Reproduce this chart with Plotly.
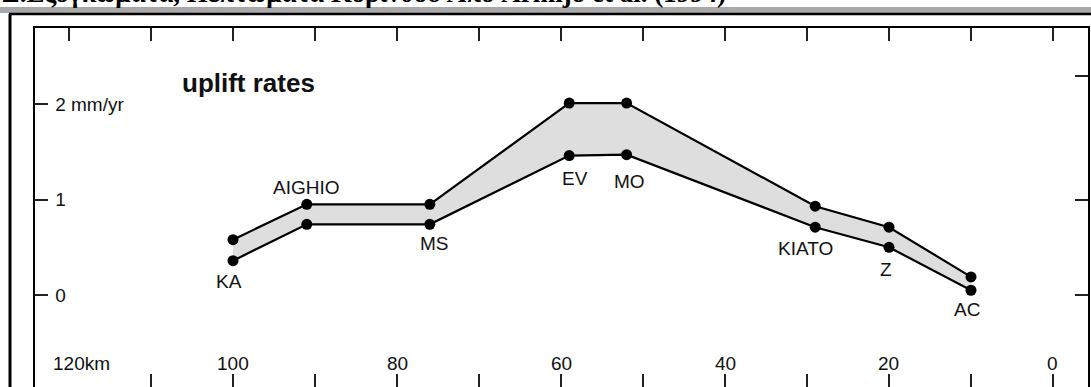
import plotly.graph_objects as go

# ---- data ----
sites = ["KA", "AIGHIO", "MS", "EV", "MO", "KIATO", "Z", "AC"]
distance_km = [100, 91, 76, 59, 52, 29, 20, 10]
uplift_max = [0.58, 0.95, 0.95, 2.01, 2.01, 0.93, 0.71, 0.19]
uplift_min = [0.36, 0.74, 0.74, 1.46, 1.47, 0.71, 0.50, 0.05]
label_on = ["min", "max", "min", "min", "min", "min", "min", "min"]
x_ticks = [120, 110, 100, 90, 80, 70, 60, 50, 40, 30, 20, 10, 0]
x_labels = {120: "120km", 100: "100", 80: "80", 60: "60", 40: "40", 20: "20", 0: "0"}
y_ticks = [0, 1, 2]
y_labels = ["0", "1", "2 mm/yr"]
right_y_ticks = [0, 1, 2.29]
title_text = "Σ.Εξογκώματα, Πεπτώματα Κορίνθου Από Armijo et al. (1994)"

# ---- style ----
W, H = 1091, 387
ML, MR, MT, MB = 35, 3, 28, 0
font_fam = "Liberation Sans, Arial, sans-serif"
label_shift = {"KA": (-4, -21), "AIGHIO": (0, 17), "MS": (5, -19), "EV": (6, -23),
               "MO": (3, -27), "KIATO": (-10, -21), "Z": (-3, -22), "AC": (-4, -19)}

fig = go.Figure()
fig.add_trace(go.Scatter(x=distance_km, y=uplift_min, mode="lines+markers",
                         line=dict(color="black", width=2.2),
                         marker=dict(color="black", size=11),
                         hoverinfo="skip", showlegend=False))
fig.add_trace(go.Scatter(x=distance_km, y=uplift_max, mode="lines+markers",
                         line=dict(color="black", width=2.2),
                         marker=dict(color="black", size=11),
                         fill="tonexty", fillcolor="#dedede",
                         hoverinfo="skip", showlegend=False))
fig.add_trace(go.Scatter(x=[distance_km[0]], y=[uplift_min[0]], xaxis="x2", yaxis="y2",
                         mode="markers", marker=dict(opacity=0), hoverinfo="skip",
                         showlegend=False))

pw, ph = W - ML - MR, H - MT - MB
def px(x):
    return (x - ML) / pw
def py(y):
    return 1 - (y - MT) / ph

annotations = []
for s, xk, lo, hi, on in zip(sites, distance_km, uplift_min, uplift_max, label_on):
    dx, dy = label_shift[s]
    annotations.append(dict(x=xk, y=(lo if on == "min" else hi), xref="x", yref="y",
                            text=s, showarrow=False, xshift=dx, yshift=dy,
                            xanchor="center", yanchor="middle",
                            font=dict(family=font_fam, size=19, color="#111")))
for v, t in x_labels.items():
    ann = dict(x=v, y=py(363), xref="x", yref="paper", text=t, yanchor="middle",
               xanchor="center", showarrow=False,
               font=dict(family=font_fam, size=19, color="#111"))
    if t.endswith("km"):
        ann.update(xanchor="left", xshift=-18)
    annotations.append(ann)
annotations.append(dict(x=px(180), y=py(83), xref="paper", yref="paper",
                        text="<b>uplift rates</b>", xanchor="left", yanchor="middle",
                        showarrow=False, font=dict(family=font_fam, size=26, color="#111")))
annotations.append(dict(x=px(0), y=py(6), xref="paper", yref="paper",
                        text="<b>" + title_text + "</b>",
                        xanchor="left", yanchor="bottom", yshift=-4, showarrow=False,
                        font=dict(family="Liberation Serif, Times New Roman, serif", size=27,
                                  color="black")))

shapes = [
    dict(type="rect", xref="paper", yref="paper", x0=px(-5), x1=px(W + 5), y0=py(13), y1=py(7),
         fillcolor="#a8a8a8", line=dict(width=0), layer="below"),
    dict(type="line", xref="paper", yref="paper", x0=px(9), x1=px(W + 5), y0=py(14), y1=py(14),
         line=dict(color="black", width=2.5)),
    dict(type="line", xref="paper", yref="paper", x0=px(10), x1=px(10), y0=py(14), y1=py(H + 5),
         line=dict(color="black", width=3)),
]

axis_common = dict(ticks="inside", ticklen=13, tickwidth=2, tickcolor="#222",
                   showgrid=False, zeroline=False)
fig.update_layout(
    width=W, height=H,
    margin=dict(l=ML, r=MR, t=MT, b=MB, pad=0),
    paper_bgcolor="white", plot_bgcolor="white",
    xaxis=dict(range=[124.15, -4.27], tickvals=x_ticks, showticklabels=False,
               showline=False, **axis_common),
    xaxis2=dict(range=[124.15, -4.27], tickvals=x_ticks, showticklabels=False, overlaying="x",
                side="top", showline=True, linewidth=2, linecolor="black", **axis_common),
    yaxis=dict(range=[-0.963, 2.796], tickvals=y_ticks, ticktext=y_labels,
               ticklabelposition="inside", ticklabelstandoff=8, showline=True, linewidth=2,
               linecolor="black",
               tickfont=dict(family=font_fam, size=19, color="#111"), **axis_common),
    yaxis2=dict(range=[-0.963, 2.796], tickvals=right_y_ticks, showticklabels=False,
                overlaying="y", side="right", showline=True, linewidth=2,
                linecolor="black", **axis_common),
    annotations=annotations,
    shapes=shapes,
)

fig.write_html("out.html", config={"displayModeBar": False},
               post_script="document.body.style.margin='0';document.body.style.overflow='hidden';")
